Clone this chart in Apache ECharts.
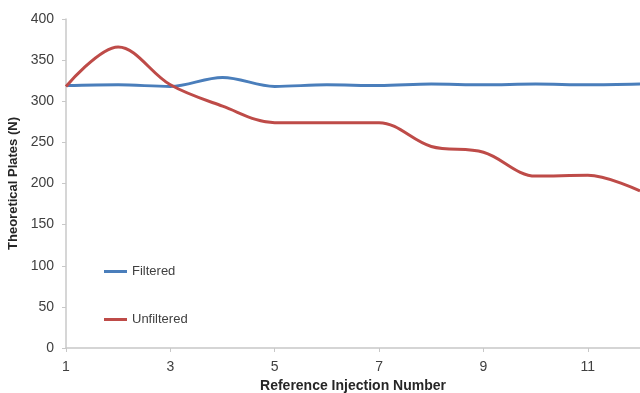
<!DOCTYPE html>
<html>
<head>
<meta charset="utf-8">
<script src="https://cdn.jsdelivr.net/npm/echarts@6/dist/echarts.min.js"></script>
<style>
  html, body { margin: 0; padding: 0; background: #fff; }
  #chart { width: 640px; height: 393px; }
</style>
</head>
<body>
<div id="chart"></div>
<script>
const injections = ['1', '2', '3', '4', '5', '6', '7', '8', '9', '10', '11', '12'];
const filtered = [319, 320, 318, 329, 318, 320, 319, 321, 320, 321, 320, 321];
const unfiltered = [318, 366, 320, 294, 274, 274, 274, 245, 238, 209, 210, 191];
const yTicks = [0, 400, 50];

const chart = echarts.init(document.getElementById('chart'));
const option = {
    animation: false,
    textStyle: { fontFamily: 'Liberation Sans, Arial, sans-serif' },
    grid: {
        top: 19,
        right: 0,
        bottom: 45,
        left: 66,
        containLabel: false,
        outerBoundsMode: 'none'
    },
    legend: {
        orient: 'vertical',
        left: 99,
        top: 260,
        icon: 'rect',
        itemGap: 35,
        itemWidth: 23,
        itemHeight: 3,
        textStyle: { color: '#404040', fontSize: 13 },
        data: ['Filtered', 'Unfiltered']
    },
    xAxis: {
        type: 'category',
        data: injections,
        boundaryGap: false,
        name: 'Reference Injection Number',
        nameLocation: 'middle',
        nameGap: 31,
        nameTextStyle: { color: '#262626', fontWeight: 'bold', fontSize: 14 },
        axisLine: { lineStyle: { color: '#c8c8c8', width: 1.5 } },
        axisTick: { interval: 1, length: 4, lineStyle: { color: '#c8c8c8' } },
        axisLabel: { interval: 1, color: '#404040', fontSize: 14, margin: 12 },
        splitLine: { show: false }
    },
    yAxis: {
        type: 'value',
        min: yTicks[0],
        max: yTicks[1],
        interval: yTicks[2],
        name: 'Theoretical Plates (N)',
        nameLocation: 'middle',
        nameGap: 39,
        nameTextStyle: { color: '#262626', fontWeight: 'bold', fontSize: 13 },
        axisLine: { show: true, lineStyle: { color: '#c8c8c8', width: 1.5 } },
        axisTick: { show: true, length: 4, lineStyle: { color: '#c8c8c8' } },
        axisLabel: { color: '#404040', fontSize: 14, margin: 12 },
        splitLine: { show: false }
    },
    series: [{
        name: 'Filtered',
        type: 'line',
        data: filtered,
        smooth: 0.35,
        symbol: 'none',
        lineStyle: { color: '#4a7ebb', width: 3 },
        itemStyle: { color: '#4a7ebb' }
    }, {
        name: 'Unfiltered',
        type: 'line',
        data: unfiltered,
        smooth: 0.35,
        symbol: 'none',
        lineStyle: { color: '#be4b48', width: 3 },
        itemStyle: { color: '#be4b48' }
    }]
};

chart.setOption(option);
</script>
</body>
</html>
